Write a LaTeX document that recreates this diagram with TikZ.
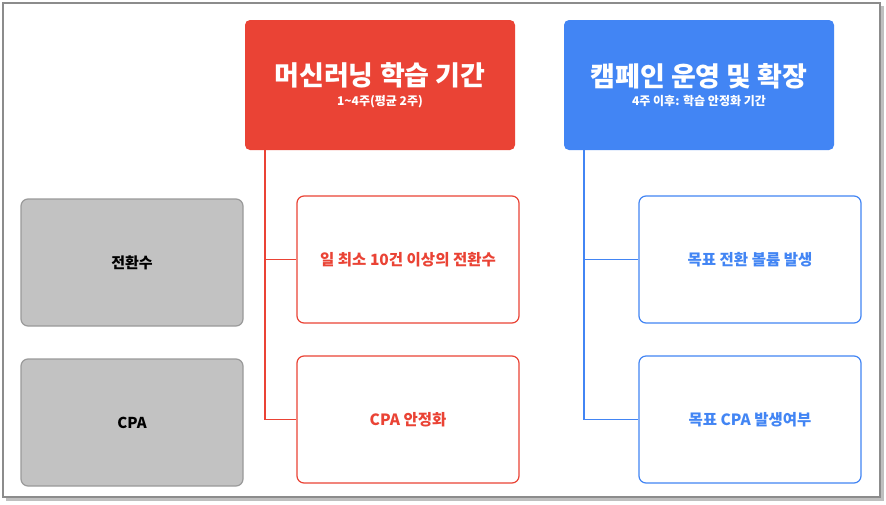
\documentclass[tikz,border=0pt]{standalone}
\usepackage{fontspec}
\setmainfont{Noto Sans CJK KR}
\definecolor{gred}{HTML}{EA4335}
\definecolor{gblue}{HTML}{4285F4}
\definecolor{gbox}{HTML}{C2C2C2}
\definecolor{gedge}{HTML}{9A9A9A}
\begin{document}
\begin{tikzpicture}[x=1pt,y=-1pt,
  head/.style={rounded corners=5pt,minimum width=270pt,minimum height=130pt,text=white,align=center,inner sep=0pt},
  grey/.style={draw=gedge,fill=gbox,line width=1.2pt,rounded corners=7pt,minimum width=222pt,minimum height=127pt,font=\fontsize{15}{18}\selectfont\bfseries},
  rbox/.style={draw=gred,fill=white,line width=1.2pt,rounded corners=7pt,minimum width=222pt,minimum height=127pt,text=gred,font=\fontsize{15.5}{18}\selectfont\bfseries},
  bbox/.style={draw=gblue,fill=white,line width=1.2pt,rounded corners=7pt,minimum width=222pt,minimum height=127pt,text=gblue,font=\fontsize{15.5}{18}\selectfont\bfseries},
  rline/.style={draw=gred,line width=1.2pt},
  bline/.style={draw=gblue,line width=1.2pt}]
\useasboundingbox (0,0) rectangle (886,504);
\fill[white] (0,0) rectangle (886,504);
\fill[black!25] (6,6) rectangle (884,501);
\draw[fill=white,draw=black!45,line width=1.5pt] (3,3) rectangle (880,497);
\node[head,fill=gred] (h1) at (380,85) {{\fontsize{27}{32}\selectfont\bfseries 머신러닝 학습 기간}\\[6pt]{\fontsize{12}{14}\selectfont\bfseries 1\textasciitilde4주(평균 2주)}};
\node[head,fill=gblue] (h2) at (699,85) {{\fontsize{27}{32}\selectfont\bfseries 캠페인 운영 및 확장}\\[6pt]{\fontsize{12}{14}\selectfont\bfseries 4주 이후: 학습 안정화 기간}};
\node[grey] (g1) at (132,262.5) {전환수};
\node[grey] (g2) at (132,422.5) {CPA};
\node[rbox] (r1) at (408,259.5) {일 최소 10건 이상의 전환수};
\node[rbox] (r2) at (408,419.5) {CPA 안정화};
\node[bbox] (b1) at (750,259.5) {목표 전환 볼륨 발생};
\node[bbox] (b2) at (750,419.5) {목표 CPA 발생여부};
\coordinate (rt) at (265,150);
\coordinate (bt) at (584,150);
\draw[rline] (rt) |- (r2.west);
\draw[rline] (rt |- r1.west) -- (r1.west);
\draw[bline] (bt) |- (b2.west);
\draw[bline] (bt |- b1.west) -- (b1.west);
\end{tikzpicture}
\end{document}
